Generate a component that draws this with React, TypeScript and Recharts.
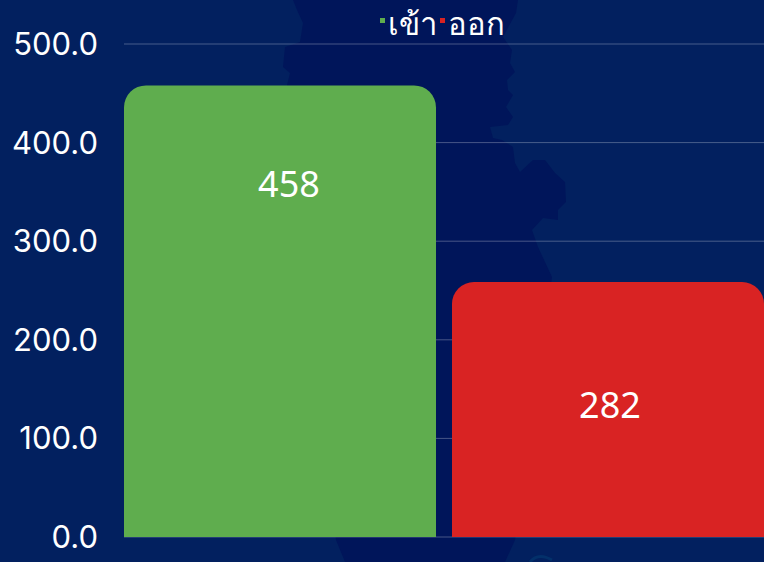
import { BarChart, Bar, XAxis, YAxis, CartesianGrid, Legend } from "recharts";

// ยอดเข้า/ออก: one category, two bars side by side. Label numbers differ from
// bar heights in the source picture, so they are kept apart.
const CATEGORIES = ["รวม"];
const IN_VALUES = [458];
const OUT_VALUES = [258.6];
const IN_LABELS = ["458"];
const OUT_LABELS = ["282"];
const Y_TICKS = [0, 100, 200, 300, 400, 500];

const data = CATEGORIES.map((name, i) => ({
  name,
  inbound: IN_VALUES[i],
  outbound: OUT_VALUES[i],
}));

const FONT = '"Noto Sans", "DejaVu Sans", sans-serif';
const TICK_FONT = 'Inter, "Noto Sans", sans-serif';
const GREEN = "#5FAD4E";
const RED = "#D92323";

// faint map behind the chart
const MAP_PATH =
  "M293 0 L297 10 L303 23 L300 42 L285 47 L283 67 L290 73 L287 85 L336 540 L345 562 L505 562 L515 540 L552 277 " +
  "L538 247 L532 230 L543 218 L558 220 L558 210 L566 202 L565 182 L555 173 L545 160 L533 160 L520 172 L515 163 " +
  "L513 147 L502 140 L493 138 L490 127 L508 125 L513 117 L506 107 L513 95 L508 90 L507 80 L515 72 L510 63 L512 50 " +
  "L503 37 L516 13 L518 0 Z";

// ตำแหน่งตัวเลขในแท่ง is not centred, nudged relative to the bar
function barLabel(texts: string[], dx: number, dy: number) {
  return (props: any) => (
    <text
      x={props.x + props.width / 2 + dx}
      y={props.y + dy}
      fill="#fff"
      fontSize={36}
      fontFamily={FONT}
      textAnchor="middle"
      dominantBaseline="central"
    >
      {texts[props.index]}
    </text>
  );
}

function LegendRow() {
  const items = [
    { label: "เข้า", color: GREEN },
    { label: "ออก", color: RED },
  ];
  return (
    <div style={{ display: "flex", justifyContent: "center", gap: 3, color: "#fff", fontFamily: FONT, fontSize: 31, lineHeight: "32px" }}>
      {items.map((it) => (
        <span key={it.label} style={{ display: "flex", alignItems: "center" }}>
          <span style={{ width: 5, height: 5, background: it.color, marginRight: 3, marginTop: -5 }} />
          {it.label}
        </span>
      ))}
    </div>
  );
}

export default function App() {
  return (
    <div style={{ position: "fixed", left: 0, top: 0, width: 764, height: 562, background: "#02205F", overflow: "hidden" }}>
      <svg width={764} height={562} style={{ position: "absolute", left: 0, top: 0 }}>
        <path d={MAP_PATH} fill="#00155A" />
        <path d="M530 562 Q538 552 552 560" fill="none" stroke="#03306a" strokeWidth={3} />
      </svg>
      <BarChart
        width={764}
        height={562}
        data={data}
        margin={{ top: 12, right: 0, bottom: 25, left: 0 }}
        barCategoryGap={0}
        barGap={16}
        style={{ position: "absolute", left: 0, top: 0 }}
      >
        <CartesianGrid vertical={false} stroke="rgba(255,255,255,0.28)" />
        <XAxis dataKey="name" hide />
        <YAxis
          domain={[0, 500]}
          ticks={Y_TICKS}
          width={124}
          axisLine={false}
          tickLine={false}
          tickMargin={20}
          tickFormatter={(v) => v.toFixed(1)}
          tick={{ fill: "#fff", fontSize: 31, fontFamily: TICK_FONT }}
        />
        <Legend verticalAlign="top" align="center" content={<LegendRow />} wrapperStyle={{ top: 7, left: 0, width: 884 }} />
        <Bar dataKey="inbound" fill={GREEN} radius={[22, 22, 0, 0]} isAnimationActive={false} label={barLabel(IN_LABELS, 9, 98)} />
        <Bar dataKey="outbound" fill={RED} radius={[22, 22, 0, 0]} isAnimationActive={false} label={barLabel(OUT_LABELS, 2, 122)} />
      </BarChart>
    </div>
  );
}
